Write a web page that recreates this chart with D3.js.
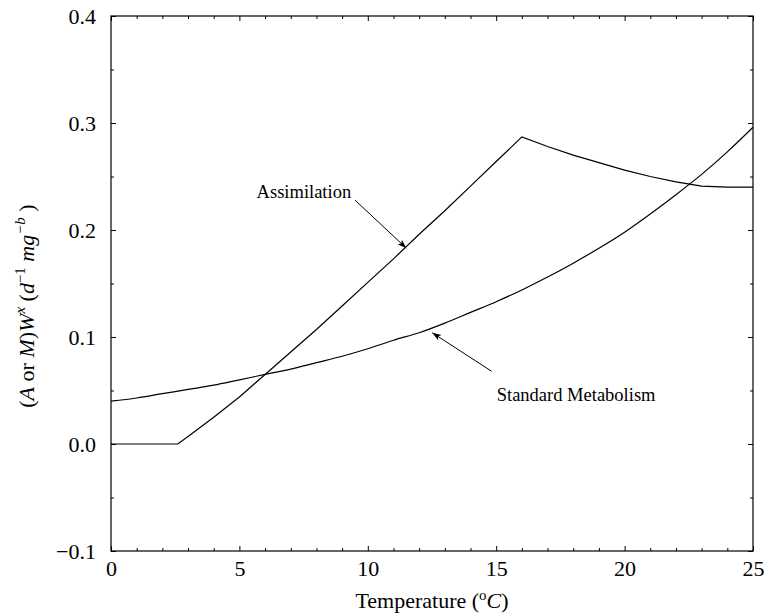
<!DOCTYPE html>
<html>
<head>
<meta charset="utf-8">
<script src="https://cdn.jsdelivr.net/npm/d3@7"></script>
<style>
body { margin: 0; background: #fff; }
svg text { font-family: "Liberation Serif", "Times New Roman", serif; fill: #000; }
.curve { fill: none; stroke: #000; stroke-width: 1.2px; }
</style>
</head>
<body>
<svg id="chart" width="767" height="616"></svg>
<script>
// temperatures (deg C) and values
var assimT = [0, 1, 2, 2.6, 3, 4, 5, 6, 7, 8, 9, 10, 11, 12, 13, 14, 15, 16, 17, 18, 19, 20, 21, 22, 23, 24, 25];
var assimV = [0, 0, 0, 0, 0.007, 0.025, 0.044, 0.065, 0.086, 0.107, 0.129, 0.151, 0.173, 0.196, 0.218, 0.241, 0.264, 0.287,
              0.278, 0.270, 0.263, 0.256, 0.250, 0.245, 0.241, 0.240, 0.240];
var metabT = [0, 1, 2, 3, 4, 5, 6, 7, 8, 9, 10, 11, 12, 13, 14, 15, 16, 17, 18, 19, 20, 21, 22, 23, 24, 25];
var metabV = [0.040, 0.043, 0.047, 0.051, 0.055, 0.060, 0.065, 0.070, 0.076, 0.082, 0.089, 0.097, 0.104, 0.113, 0.123,
              0.133, 0.144, 0.156, 0.169, 0.183, 0.198, 0.215, 0.233, 0.252, 0.273, 0.296];
var xTicks = [0, 5, 10, 15, 20, 25];
var yTicks = [-0.1, 0.0, 0.1, 0.2, 0.3, 0.4];
var labelNames = ["Assimilation", "Standard Metabolism"];
var labelPos = [[5.67, 0.230], [15.02, 0.040]];
var arrowFrom = [[9.50, 0.228], [14.82, 0.068]];
var arrowTo = [[11.50, 0.183], [12.51, 0.104]];

var svg = d3.select("#chart"),
    margin = {top: 16, right: 14, bottom: 65, left: 111},
    width = +svg.attr("width") - margin.left - margin.right,
    height = +svg.attr("height") - margin.top - margin.bottom,
    g = svg.append("g").attr("transform", "translate(" + margin.left + "," + margin.top + ")");

var x = d3.scaleLinear().domain([0, 25]).range([0, width]);
var y = d3.scaleLinear().domain([-0.1, 0.4]).range([height, 0]);

var xMinor = d3.range(0, 26, 1).filter(function(d) { return d % 5 != 0; });
var yMinor = d3.range(-0.1, 0.41, 0.05).filter(function(d) { return Math.abs(Math.round(d * 10) - d * 10) > 0.01; });
var fmt = d3.format(".1f");

function styleAxis(sel) {
  sel.select(".domain").remove();
  sel.attr("font-family", "Liberation Serif").attr("font-size", 22);
  sel.selectAll("line").attr("stroke", "#000");
}

// frame
g.append("rect")
  .attr("x", 0).attr("y", 0).attr("width", width).attr("height", height)
  .attr("fill", "none").attr("stroke", "#000").attr("stroke-width", 1.2);

// bottom
g.append("g").attr("transform", "translate(0," + height + ")")
  .call(d3.axisBottom(x).tickValues(xTicks).tickSize(-5).tickPadding(9).tickFormat(d3.format("d")))
  .call(styleAxis)
  .selectAll("text").attr("dy", "0.71em");
g.append("g").attr("transform", "translate(0," + height + ")")
  .call(d3.axisBottom(x).tickValues(xMinor).tickSize(-3).tickFormat(""))
  .call(styleAxis);
// top
g.append("g")
  .call(d3.axisTop(x).tickValues(xTicks).tickSize(-5).tickFormat(""))
  .call(styleAxis);
g.append("g")
  .call(d3.axisTop(x).tickValues(xMinor).tickSize(-3).tickFormat(""))
  .call(styleAxis);
// left
g.append("g")
  .call(d3.axisLeft(y).tickValues(yTicks).tickSize(-5).tickPadding(15).tickFormat(fmt))
  .call(styleAxis);
g.append("g")
  .call(d3.axisLeft(y).tickValues(yMinor).tickSize(-3).tickFormat(""))
  .call(styleAxis);
// right
g.append("g").attr("transform", "translate(" + width + ",0)")
  .call(d3.axisRight(y).tickValues(yTicks).tickSize(-5).tickFormat(""))
  .call(styleAxis);
g.append("g").attr("transform", "translate(" + width + ",0)")
  .call(d3.axisRight(y).tickValues(yMinor).tickSize(-3).tickFormat(""))
  .call(styleAxis);

var line = d3.line()
  .x(function(d) { return x(d[0]); })
  .y(function(d) { return y(d[1]); });

g.append("path").attr("class", "curve")
  .datum(d3.zip(assimT, assimV))
  .attr("d", line);
g.append("path").attr("class", "curve")
  .datum(d3.zip(metabT, metabV))
  .attr("d", line.curve(d3.curveMonotoneX));

// arrows
svg.append("defs").append("marker")
  .attr("id", "arrow").attr("viewBox", "0 0 10 10")
  .attr("refX", 10).attr("refY", 5)
  .attr("markerWidth", 9).attr("markerHeight", 9)
  .attr("markerUnits", "userSpaceOnUse")
  .attr("orient", "auto")
  .append("path").attr("d", "M0,1.5 L10,5 L0,8.5 L2.5,5 Z").attr("fill", "#000");

g.selectAll(".arrow")
  .data(d3.range(arrowFrom.length))
  .enter().append("line")
  .attr("class", "arrow")
  .attr("x1", function(i) { return x(arrowFrom[i][0]); })
  .attr("y1", function(i) { return y(arrowFrom[i][1]); })
  .attr("x2", function(i) { return x(arrowTo[i][0]); })
  .attr("y2", function(i) { return y(arrowTo[i][1]); })
  .attr("stroke", "#000").attr("stroke-width", 1)
  .attr("marker-end", "url(#arrow)");

g.selectAll(".label")
  .data(labelNames)
  .enter().append("text")
  .attr("class", "label")
  .attr("x", function(d, i) { return x(labelPos[i][0]); })
  .attr("y", function(d, i) { return y(labelPos[i][1]); })
  .style("font-size", "18.5px")
  .text(function(d) { return d; });

// x title
var xt = svg.append("text")
  .attr("x", margin.left + width / 2).attr("y", 608)
  .attr("text-anchor", "middle")
  .style("font-size", "22px");
xt.append("tspan").text("Temperature (");
xt.append("tspan").attr("dy", -8).style("font-size", "15px").text("o");
xt.append("tspan").attr("dy", 8).style("font-style", "italic").text("C");
xt.append("tspan").text(")");

// y title
var yt = svg.append("text")
  .attr("transform", "translate(34," + 306 + ") rotate(-90)")
  .attr("text-anchor", "middle")
  .style("font-size", "22px");
yt.append("tspan").text("(");
yt.append("tspan").style("font-style", "italic").text("A");
yt.append("tspan").text(" or ");
yt.append("tspan").style("font-style", "italic").text("M");
yt.append("tspan").text(")");
yt.append("tspan").style("font-style", "italic").text("W");
yt.append("tspan").attr("dy", -9).style("font-size", "15px").style("font-style", "italic").text("x");
yt.append("tspan").attr("dy", 9).text("  (");
yt.append("tspan").style("font-style", "italic").text("d");
yt.append("tspan").attr("dy", -9).style("font-size", "15px").text("\u22121");
yt.append("tspan").attr("dy", 9).style("font-style", "italic").text(" mg");
yt.append("tspan").attr("dy", -9).style("font-size", "15px").style("font-style", "italic").text("\u2212b");
yt.append("tspan").attr("dy", 9).text(" )");
</script>
</body>
</html>
